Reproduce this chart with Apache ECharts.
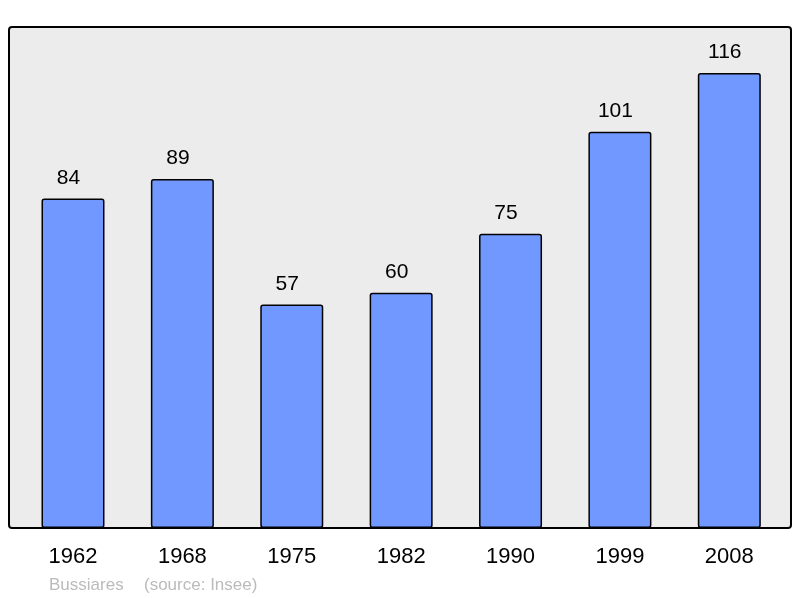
<!DOCTYPE html>
<html>
<head>
<meta charset="utf-8">
<script src="https://cdn.jsdelivr.net/npm/echarts@6/dist/echarts.min.js"></script>
<style>
html,body{margin:0;padding:0;background:#fff;}
#chart{width:800px;height:598px;}
</style>
</head>
<body>
<div id="chart"></div>
<script>
const categories = ['1962', '1968', '1975', '1982', '1990', '1999', '2008'];
const population = [84, 89, 57, 60, 75, 101, 116];
const placeName = 'Bussiares';
const sourceText = '(source: Insee)';

const chart = echarts.init(document.getElementById('chart'));
chart.setOption({
  backgroundColor: '#ffffff',
  animation: false,
  graphic: [
    {
      type: 'rect',
      shape: { x: 9, y: 27, width: 782, height: 501, r: 3 },
      style: { fill: '#ececec', stroke: '#000', lineWidth: 2 },
      z: -10, silent: true
    },
    {
      type: 'text', x: 49, y: 585,
      style: { text: placeName, fill: '#bbbbbb', font: '17px "Liberation Sans", Arial, sans-serif', verticalAlign: 'middle' }
    },
    {
      type: 'text', x: 144, y: 585,
      style: { text: sourceText, fill: '#bbbbbb', font: '17px "Liberation Sans", Arial, sans-serif', verticalAlign: 'middle' }
    }
  ],
  grid: { left: 18.3, right: 800 - 784, top: 57.3, bottom: 70, containLabel: false },
  xAxis: {
    type: 'category',
    data: categories,
    axisLine: { show: false },
    axisTick: { show: false },
    axisLabel: {
      color: '#000', fontSize: 22, margin: 18,
      fontFamily: '"Liberation Sans", Arial, sans-serif'
    }
  },
  yAxis: {
    type: 'value', min: 0, max: 120,
    show: false,
    splitLine: { show: false }
  },
  series: [{
    type: 'bar',
    data: population,
    barWidth: 63,
    itemStyle: { color: '#7098ff', borderColor: '#000', borderWidth: 1.5, borderRadius: 2 },
    label: {
      show: true, position: 'top', distance: 10, offset: [-4.5, 0],
      color: '#000', fontSize: 21,
      fontFamily: '"Liberation Sans", Arial, sans-serif'
    }
  }]
});
</script>
</body>
</html>
